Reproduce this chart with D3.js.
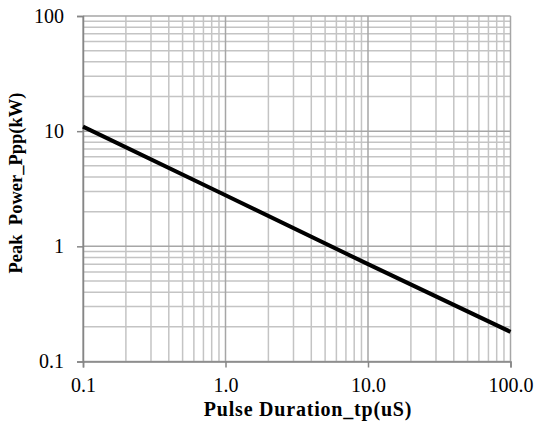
<!DOCTYPE html>
<html><head><meta charset="utf-8">
<script src="https://cdn.jsdelivr.net/npm/d3@7"></script>
<style>body{margin:0;background:#fff}svg{display:block}</style>
</head><body><svg id="c" width="536" height="428"></svg>
<script>
const pulseDuration = [0.1, 1, 10, 100];
const peakPower = [10.95, 2.78, 0.70, 0.181];
const xTickValues = [0.1, 1, 10, 100];
const xTickLabels = ["0.1", "1.0", "10.0", "100.0"];
const yTickValues = [0.1, 1, 10, 100];
const yTickLabels = ["0.1", "1", "10", "100"];
const xTitle = "Pulse Duration_tp(uS)";
const yTitle = "Peak  Power_Ppp(kW)";

const FONT = "Liberation Serif";
const svg = d3.select("#c");
const L = 83, R = 510.5, T = 16, B = 361.5;
const x = d3.scaleLog().domain([0.1, 100]).range([L, R]);
const y = d3.scaleLog().domain([0.1, 100]).range([B, T]);

function minors(){
  const out=[];
  for(let e=-1;e<2;e++){for(let k=2;k<=9;k++){out.push(k*Math.pow(10,e));}}
  return out;
}
const g = svg.append("g");
g.selectAll(".vx").data(minors()).enter().append("line")
 .attr("x1",d=>x(d)).attr("x2",d=>x(d)).attr("y1",T).attr("y2",B)
 .attr("stroke","#c4c4c4").attr("stroke-width",1.5);
g.selectAll(".hy").data(minors()).enter().append("line")
 .attr("y1",d=>y(d)).attr("y2",d=>y(d)).attr("x1",L).attr("x2",R)
 .attr("stroke","#c4c4c4").attr("stroke-width",1.5);
g.selectAll(".mx").data(xTickValues).enter().append("line")
 .attr("x1",d=>x(d)).attr("x2",d=>x(d)).attr("y1",T).attr("y2",B)
 .attr("stroke","#a6a6a6").attr("stroke-width",1.5);
g.selectAll(".my").data(yTickValues).enter().append("line")
 .attr("y1",d=>y(d)).attr("y2",d=>y(d)).attr("x1",L).attr("x2",R)
 .attr("stroke","#a6a6a6").attr("stroke-width",1.5);

const xa = svg.append("g").attr("transform",`translate(0,${B})`)
 .call(d3.axisBottom(x).tickValues(xTickValues).tickFormat((d,i)=>xTickLabels[i]).tickSize(6).tickPadding(10));
const ya = svg.append("g").attr("transform",`translate(${L},0)`)
 .call(d3.axisLeft(y).tickValues(yTickValues).tickFormat((d,i)=>yTickLabels[i]).tickSize(6).tickPadding(13));
[xa,ya].forEach(a=>{
  a.attr("font-family",FONT).attr("font-size",20);
  a.select(".domain").attr("stroke","#868686").attr("stroke-width",1.5);
  a.selectAll(".tick line").attr("stroke","#868686").attr("stroke-width",1.5);
  a.selectAll("text").attr("font-family",FONT).attr("font-size",20).attr("fill","#000");
});

svg.append("path").datum(pulseDuration.map((d,i)=>[d,peakPower[i]]))
 .attr("d",d3.line().x(d=>x(d[0])).y(d=>y(d[1])))
 .attr("fill","none").attr("stroke","#000").attr("stroke-width",4);

svg.append("text").attr("x",308).attr("y",416).attr("text-anchor","middle")
 .attr("font-family",FONT).attr("font-weight","bold").attr("font-size",20)
 .attr("letter-spacing",0.8).text(xTitle);
svg.append("text").attr("transform","translate(22,183) rotate(-90)").attr("text-anchor","middle")
 .attr("font-family",FONT).attr("font-weight","bold").attr("font-size",18.5)
 .attr("xml:space","preserve").style("white-space","pre").text(yTitle);
</script></body></html>
